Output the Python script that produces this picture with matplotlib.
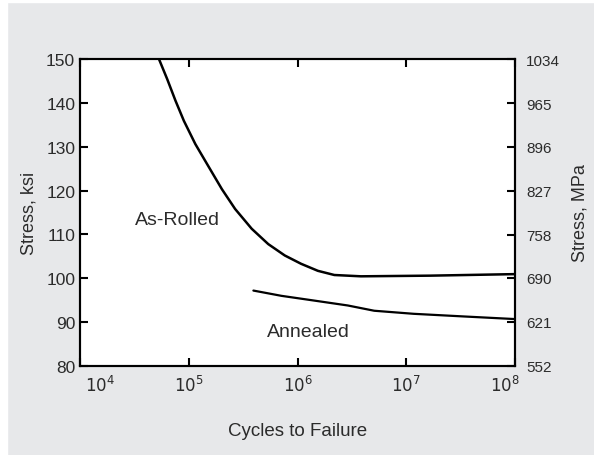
import numpy as np
import matplotlib.pyplot as plt
import matplotlib.transforms as mtransforms
from matplotlib.patches import Rectangle

plt.rcParams['font.family'] = ['Liberation Sans', 'DejaVu Sans']

# as-rolled curve (cycles, ksi)
rolled_n = [5.32e4, 6.34e4, 7.55e4, 9.02e4, 1.15e5, 1.47e5, 2.02e5, 2.67e5, 3.79e5, 5.38e5,
            7.64e5, 1.08e6, 1.54e6, 2.18e6, 3.83e6, 1.66e7, 1e8]
rolled_s = [150.0, 145.4, 140.5, 135.9, 130.6, 126.1, 120.3, 115.8, 111.3, 107.8,
            105.2, 103.3, 101.7, 100.75, 100.45, 100.6, 100.95]

# annealed curve
annealed_n = [3.93e5, 7.11e5, 1.44e6, 2.90e6, 5.07e6, 1.17e7, 3.36e7, 1e8]
annealed_s = [97.2, 96.0, 94.9, 93.8, 92.6, 91.9, 91.3, 90.7]

ksi_ticks = [80, 90, 100, 110, 120, 130, 140, 150]
mpa_ticks = [552, 621, 690, 758, 827, 896, 965, 1034]
x_ticks = [1e4, 1e5, 1e6, 1e7, 1e8]
x_labels = ['$10^4$', '$10^5$', '$10^6$', '$10^7$', '$10^8$']

txt = '#2b2b2b'
fig = plt.figure(figsize=(5.94, 4.56), dpi=100, facecolor='#e7e8ea')
# white border strips on the scan
fig.patches.append(Rectangle((0, 0), 7 / 594, 1, transform=fig.transFigure, color='white', zorder=-1))
fig.patches.append(Rectangle((0, 1 - 3 / 456), 1, 3 / 456, transform=fig.transFigure, color='white', zorder=-1))

ax = fig.add_axes([80 / 594, 1 - 367 / 456, 435 / 594, 307 / 456])
ax.set_facecolor('white')
ax.plot(rolled_n, rolled_s, color='black', lw=1.8, solid_joinstyle='round', solid_capstyle='round')
ax.plot(annealed_n, annealed_s, color='black', lw=1.6, solid_joinstyle='round', solid_capstyle='round')

ax.set_xscale('log')
ax.set_xlim(10 ** 4.026, 1e8)
ax.set_ylim(80, 150)
ax.set_xticks(x_ticks)
ax.set_xticklabels(x_labels)
ax.minorticks_off()
ax.set_yticks(ksi_ticks)
ax.tick_params(axis='both', direction='in', length=6, width=1.5, colors='black',
               labelcolor=txt, labelsize=12.5, top=True)
ax.tick_params(axis='x', pad=6, labelsize=12)
for sp in ax.spines.values():
    sp.set_linewidth(1.5)

labels = ax.get_xticklabels()
labels[0].set_transform(labels[0].get_transform() + mtransforms.ScaledTranslation(20 / 100, 0, fig.dpi_scale_trans))
labels[-1].set_transform(labels[-1].get_transform() + mtransforms.ScaledTranslation(-10 / 100, 0, fig.dpi_scale_trans))

ax.set_ylabel('Stress, ksi', fontsize=13, color=txt, labelpad=6)
ax.set_xlabel('Cycles to Failure', fontsize=13.5, color=txt, labelpad=20)

ax.text(7.9e4, 113.5, 'As-Rolled', fontsize=14, color=txt, ha='center', va='center')
ax.text(1.25e6, 87.8, 'Annealed', fontsize=14, color=txt, ha='center', va='center')

ax2 = ax.twinx()
ax2.set_ylim(80 * 6.895, 150 * 6.895)
ax2.set_yticks(mpa_ticks)
ax2.minorticks_off()
ax2.tick_params(axis='y', direction='in', length=6, width=1.5, labelcolor=txt, labelsize=11, pad=8)
for sp in ax2.spines.values():
    sp.set_linewidth(1.5)
ax2.set_ylabel('Stress, MPa', fontsize=13, color=txt, labelpad=8)

fig.savefig('out.png', dpi=100, facecolor=fig.get_facecolor())
